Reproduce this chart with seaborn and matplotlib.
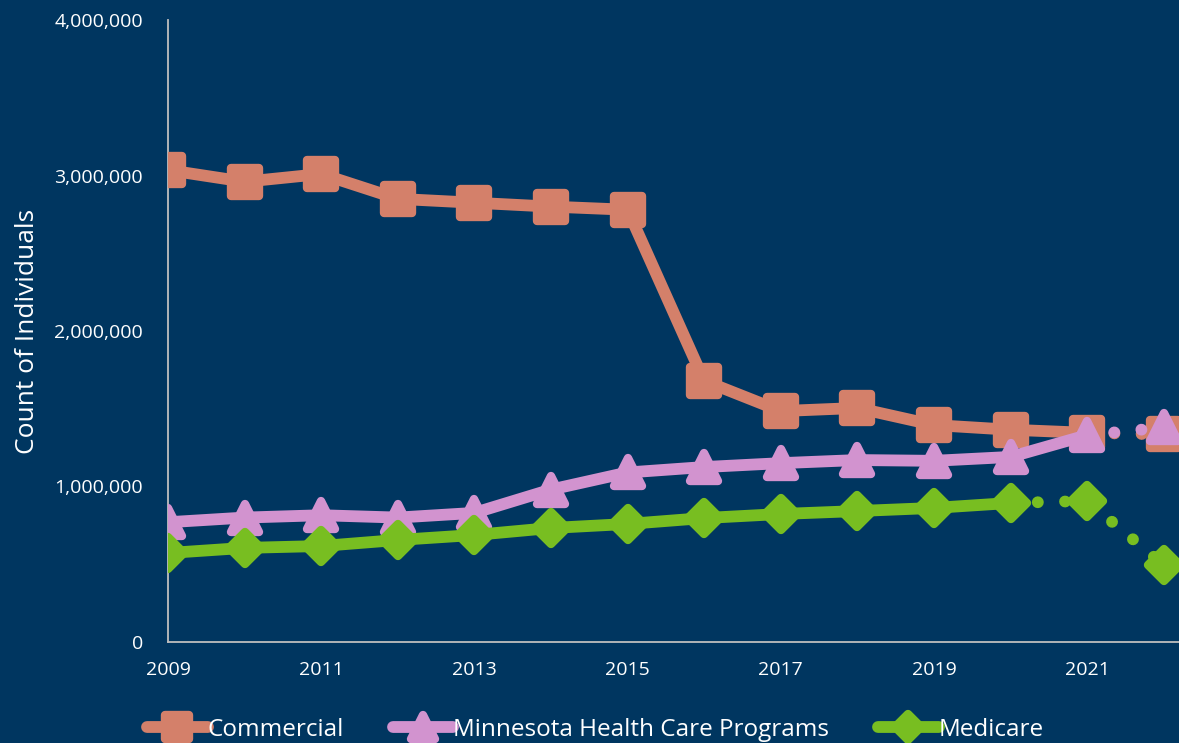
import numpy as np
import pandas as pd
import matplotlib
matplotlib.use("Agg")
import matplotlib.pyplot as plt
from matplotlib.markers import MarkerStyle
from matplotlib.lines import Line2D
from matplotlib.ticker import FuncFormatter
import seaborn as sns

# data
years = [2009, 2010, 2011, 2012, 2013, 2014, 2015, 2016, 2017, 2018, 2019, 2020, 2021, 2022]
commercial = [3035000, 2960000, 3010000, 2850000, 2825000, 2800000, 2780000, 1680000,
              1485000, 1505000, 1395000, 1365000, 1345000, 1335000]
mhcp = [770000, 800000, 815000, 800000, 830000, 980000, 1090000, 1125000,
        1150000, 1170000, 1165000, 1190000, 1330000, 1380000]
medicare = [572000, 605000, 617000, 656000, 688000, 733000, 759000, 797000,
            823000, 842000, 862000, 894000, 907000, 495000]
# index where dotted part starts
solid_end = {"Commercial": 12, "Minnesota Health Care Programs": 12, "Medicare": 11}

bg = "#003660"
colors = {"Commercial": "#D4806A", "Minnesota Health Care Programs": "#D293CF", "Medicare": "#78BE21"}
markers = {"Commercial": "s", "Minnesota Health Care Programs": "^", "Medicare": "D"}
msizes = {"Commercial": 20, "Minnesota Health Care Programs": 20, "Medicare": 16}

sns.set_style("white")
plt.rcParams['font.family'] = ['Open Sans', 'DejaVu Sans']

fig = plt.figure(figsize=(11.79, 7.43), dpi=100, facecolor=bg)
ax = fig.add_axes([168 / 1179, 0.136, 1 - 168 / 1179, 0.837])
ax.set_facecolor(bg)

series = {"Commercial": commercial, "Minnesota Health Care Programs": mhcp, "Medicare": medicare}
lw = 8.5
handles = []
for z, (name, vals) in enumerate(series.items()):
    df = pd.DataFrame({"year": years, "value": vals})
    k = solid_end[name]
    c = colors[name]
    sns.lineplot(data=df.iloc[:k + 1], x="year", y="value", ax=ax, color=c, lw=lw,
                 solid_capstyle="round", solid_joinstyle="round", zorder=2 + z * 2)
    ax.plot(df["year"].iloc[k:], df["value"].iloc[k:], color=c, lw=lw,
            linestyle=(0, (0.01, 2.3)), dash_capstyle="round", zorder=2 + z * 2)
    ms = MarkerStyle(markers[name], joinstyle="round")
    ax.plot(df["year"], df["value"], linestyle="none", marker=ms, markersize=msizes[name],
            markerfacecolor=c, markeredgecolor=c, markeredgewidth=6, zorder=3 + z * 2)
    handles.append(Line2D([], [], color=c, lw=lw, solid_capstyle="round", marker=ms,
                          markersize=msizes[name] - 3, markerfacecolor=c, markeredgecolor=c,
                          markeredgewidth=6, label=name))

if ax.get_legend() is not None:
    ax.get_legend().remove()

ax.set_xlim(2009, 2022.2)
ax.set_ylim(0, 4000000)
ax.set_xticks([2009, 2011, 2013, 2015, 2017, 2019, 2021])
ax.set_yticks([0, 1000000, 2000000, 3000000, 4000000])
ax.yaxis.set_major_formatter(FuncFormatter(lambda v, p: f"{int(v):,}"))
ax.set_xlabel("")
ax.set_ylabel("Count of Individuals", color="white", fontsize=19, labelpad=10)

for s in ["top", "right"]:
    ax.spines[s].set_visible(False)
for s in ["left", "bottom"]:
    ax.spines[s].set_color("#BFBFBF")
    ax.spines[s].set_linewidth(1.3)
ax.tick_params(axis="y", direction="in", length=6, color="#BFBFBF", labelcolor="white",
               labelsize=14, pad=18)
ax.tick_params(axis="x", direction="in", length=0, labelcolor="white", labelsize=14, pad=14)

leg = fig.legend(handles=handles, loc="center", bbox_to_anchor=(0.505, 0.018), ncol=3,
                 frameon=False, fontsize=17.5, handlelength=2.5, handletextpad=0.0,
                 columnspacing=2.0, labelcolor="white", borderaxespad=0, borderpad=0)

fig.savefig("out.png", dpi=100, facecolor=bg)
